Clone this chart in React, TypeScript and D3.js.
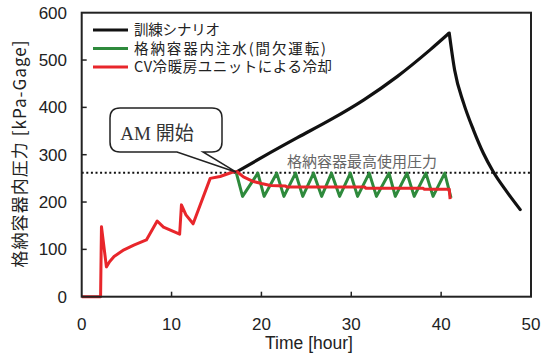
import React from "react";
import * as d3 from "d3";

// ---- data ----
const redT = [0, 2.1, 2.2, 2.75, 3.1, 3.6, 4.7, 5.8, 7.2, 8.4, 9.1, 10.9, 11.1, 11.6, 12.4, 14.3, 15.4, 16.9, 17.3, 18, 19, 20, 21, 22.7, 22.8, 31.5, 31.6, 38, 38.1, 40.9, 41.0];
const redV = [0, 0, 148, 63, 74, 85, 99, 109, 120, 160, 147, 132, 194, 173, 154, 250, 254, 264, 264, 253, 244, 239, 235, 234, 232, 232, 229, 229, 227, 227, 206];

const greenT = [17.2, 17.9, 19.6, 20.3, 21.7, 22.5, 23.8, 24.6, 25.8, 26.7, 27.8, 28.7, 29.9, 30.7, 32.0, 32.8, 34.2, 34.9, 36.2, 37.0, 38.3, 39.1, 40.4, 41.1];
const greenV = [262, 212, 261, 212, 261, 212, 261, 212, 261, 212, 261, 212, 261, 212, 261, 212, 261, 212, 261, 212, 261, 212, 261, 209];

const blackT = [17.2, 20.3, 24, 27.7, 31.4, 35.1, 38.8, 40.9, 41.5, 42.5, 43.6, 44.7, 45.8, 47.3, 48.8];
const blackV = [263, 297, 336, 374, 416, 465, 522, 557, 479, 409, 352, 303, 264, 222, 184];

const xTicks = [0, 10, 20, 30, 40, 50];
const yTicks = [0, 100, 200, 300, 400, 500, 600];
const maxPressure = 262;
const amStartT = 17.2;
const amStartV = 263;

const legendLabels = ["訓練シナリオ", "格納容器内注水(間欠運転)", "CV冷暖房ユニットによる冷却"];
const legendWidths = [86, 192, 198];
const legendColors = ["#111111", "#2e8a3c", "#e8262b"];

const W = 548, H = 354;
const M = { left: 81.7, right: 531, top: 12.7, bottom: 296.7 };

export default function App() {
  const x = d3.scaleLinear().domain([0, 50]).range([M.left, M.right]);
  const y = d3.scaleLinear().domain([0, 600]).range([M.bottom, M.top]);
  const line = d3.line<[number, number]>().x(d => x(d[0])).y(d => y(d[1]));
  const smooth = d3.line<[number, number]>().x(d => x(d[0])).y(d => y(d[1])).curve(d3.curveMonotoneX);

  const red = redT.map((t, i) => [t, redV[i]] as [number, number]);
  const green = greenT.map((t, i) => [t, greenV[i]] as [number, number]);
  const black = blackT.map((t, i) => [t, blackV[i]] as [number, number]);
  const peak = blackV.indexOf(d3.max(blackV) as number);
  const blackRise = black.slice(0, peak + 1);
  const blackFall = black.slice(peak);

  const numFont = "'Liberation Sans', Arial, sans-serif";
  const jpFont = "'Noto Sans CJK JP', sans-serif";

  const px = x(amStartT), py = y(amStartV);

  return (
    <div style={{ position: "fixed", left: 0, top: 0 }}>
      <svg width={W} height={H} style={{ display: "block", background: "#fff" }}>
        <rect x={0} y={0} width={W} height={H} fill="#fff" />
        {/* dotted max pressure line */}
        <line x1={M.left} x2={M.right} y1={y(maxPressure)} y2={y(maxPressure)} stroke="#111" strokeWidth={2} strokeDasharray="2 2.6" />
        <text x={362} y={167} textAnchor="middle" fontFamily={jpFont} fontSize={15} fill="#666">格納容器最高使用圧力</text>

        {/* series */}
        <path d={smooth(blackRise) || ""} fill="none" stroke={legendColors[0]} strokeWidth={3.2} strokeLinejoin="round" />
        <path d={smooth(blackFall) || ""} fill="none" stroke={legendColors[0]} strokeWidth={3.2} strokeLinejoin="round" strokeLinecap="round" />
        <path d={line(green) || ""} fill="none" stroke={legendColors[1]} strokeWidth={3} strokeLinejoin="round" />
        <path d={line(red) || ""} fill="none" stroke={legendColors[2]} strokeWidth={3} strokeLinejoin="round" />

        {/* frame */}
        <rect x={M.left} y={M.top} width={M.right - M.left} height={M.bottom - M.top} fill="none" stroke="#222" strokeWidth={2} />

        {/* ticks */}
        {xTicks.map(t => (
          <g key={"x" + t}>
            {t > 0 && t < 50 && <line x1={x(t)} x2={x(t)} y1={M.bottom} y2={M.bottom - 5} stroke="#222" strokeWidth={1.5} />}
            <text x={x(t)} y={330} textAnchor="middle" fontFamily={numFont} fontSize={17} fill="#222">{t}</text>
          </g>
        ))}
        {yTicks.map(v => (
          <g key={"y" + v}>
            {v > 0 && v < 600 && <line x1={M.left} x2={M.left + 5} y1={y(v)} y2={y(v)} stroke="#222" strokeWidth={1.5} />}
            <text x={67} y={y(v)} dy="0.36em" textAnchor="end" fontFamily={numFont} fontSize={17} fill="#222">{v}</text>
          </g>
        ))}

        {/* axis titles */}
        <text x={309} y={349} textAnchor="middle" fontFamily={numFont} fontSize={17.5} fill="#222">Time [hour]</text>
        <text transform="translate(26,154) rotate(-90)" textAnchor="middle" fontFamily={jpFont} fontSize={17} fill="#222" textLength={227} lengthAdjust="spacing">格納容器内圧力 [kPa-Gage]</text>

        {/* legend */}
        {legendLabels.map((l, i) => (
          <g key={l}>
            <line x1={93} x2={128} y1={30 + i * 18.5} y2={30 + i * 18.5} stroke={legendColors[i]} strokeWidth={3.2} />
            <text x={134} y={30 + i * 18.5} dy="0.36em" fontFamily={jpFont} fontSize={14.5} fill="#222" textLength={legendWidths[i]} lengthAdjust="spacing">{l}</text>
          </g>
        ))}

        {/* callout */}
        <path
          d={`M120,108 H212 Q222,108 222,118 V142 Q222,152 212,152 H203 L${px},${py} L177,152 H120 Q110,152 110,142 V118 Q110,108 120,108 Z`}
          fill="#fff" stroke="#222" strokeWidth={1.5} strokeLinejoin="miter"
        />
        <text x={157} y={140} textAnchor="middle" fontFamily="'Liberation Serif', 'Noto Sans CJK JP', serif" fontSize={19} fill="#333">AM 開始</text>
      </svg>
    </div>
  );
}
